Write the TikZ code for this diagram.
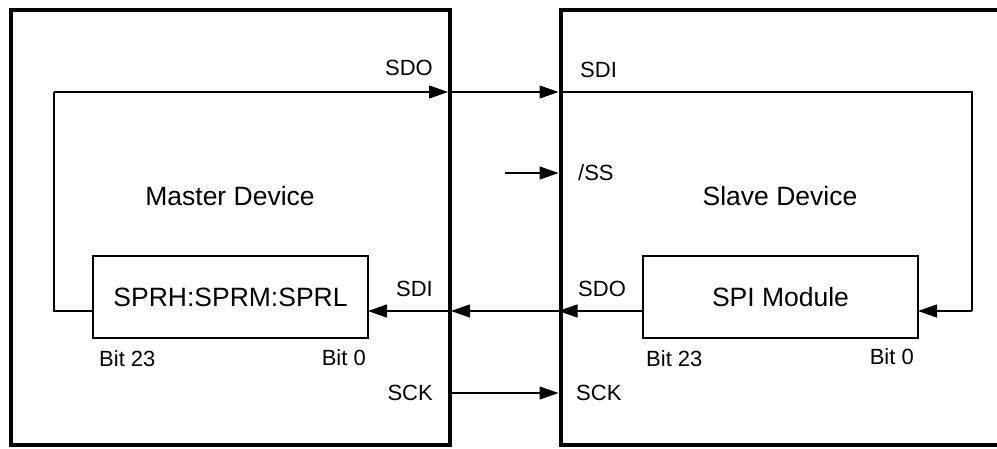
\documentclass[tikz,border=0pt]{standalone}
\usepackage{fontspec}
\setmainfont{Liberation Sans}
\usetikzlibrary{arrows.meta}
\begin{document}
\begin{tikzpicture}[x=1pt,y=-1pt,
  device/.style={draw,line width=4pt,inner sep=0pt},
  regbox/.style={draw,line width=1.4pt,minimum width=275pt,minimum height=82pt,inner sep=0pt,font=\fontsize{26.5}{30}\selectfont},
  wire/.style={line width=1.3pt},
  arr/.style={wire,-{Triangle[length=19pt,width=13pt]}},
  lbl/.style={inner sep=0pt,font=\fontsize{22}{26}\selectfont},
  big/.style={inner sep=0pt,font=\fontsize{26.5}{30}\selectfont}]
\useasboundingbox (0,0) rectangle (997,448);
\clip (0,0) rectangle (997,448);
% device boxes
\node[device,minimum width=439pt,minimum height=435pt] (master) at (230.5,227.5) {};
\node[device,minimum width=540pt,minimum height=435pt] (slave) at (830.5,227.5) {};
% registers
\node[regbox] (reg) at (230.5,297) {SPRH:SPRM:SPRL};
\node[regbox] (spi) at (780.5,297) {SPI Module};
% titles
\node[big] (mtitle) at (230,196) {Master Device};
\node[big] (stitle) at (780,196) {Slave Device};
% coordinates
\coordinate (mSDO) at (448,92);
\coordinate (sSDI) at (558.5,92);
\coordinate (mloopB) at (54,311);
\coordinate (mloopT) at (54,92);
\coordinate (sloopT) at (972,92);
\coordinate (sloopB) at (972,311);
\coordinate (regR) at (368,311);
\coordinate (regL) at (93,311);
\coordinate (spiL) at (643,311);
\coordinate (spiR) at (918,311);
\coordinate (sSDO) at (558.5,311);
\coordinate (mSDI) at (451,311);
\coordinate (ssin) at (505,173);
\coordinate (ssS) at (558.5,173);
\coordinate (mSCK) at (452,393);
\coordinate (sSCK) at (558.5,393);
% wires
\draw[wire] (regL) -- (mloopB) -- (mloopT);
\draw[arr] (mloopT) -- (mSDO);
\draw[arr] (mSDO) -- (sSDI);
\draw[wire] (sSDI) -- (sloopT) -- (sloopB);
\draw[arr] (sloopB) -- (spiR);
\draw[arr] (spiL) -- (sSDO);
\draw[arr] (sSDO) -- (mSDI);
\draw[arr] (mSDI) -- (regR);
\draw[arr] (ssin) -- (ssS);
\draw[arr] (mSCK) -- (sSCK);
% labels
\node[lbl,anchor=east] (lmsdo) at (433,68) {SDO};
\node[lbl,anchor=west] (lssdi) at (580,70) {SDI};
\node[lbl,anchor=west] (lss) at (578,173) {/SS};
\node[lbl,anchor=east] (lmsdi) at (433,289) {SDI};
\node[lbl,anchor=west] (lssdo) at (578,289) {SDO};
\node[lbl,anchor=west] (lmb23) at (99,359) {Bit 23};
\node[lbl,anchor=east] (lmb0) at (366,358) {Bit 0};
\node[lbl,anchor=west] (lsb23) at (646,359) {Bit 23};
\node[lbl,anchor=east] (lsb0) at (914,357) {Bit 0};
\node[lbl,anchor=east] (lmsck) at (433,393) {SCK};
\node[lbl,anchor=west] (lssck) at (576,393) {SCK};
\end{tikzpicture}
\end{document}
